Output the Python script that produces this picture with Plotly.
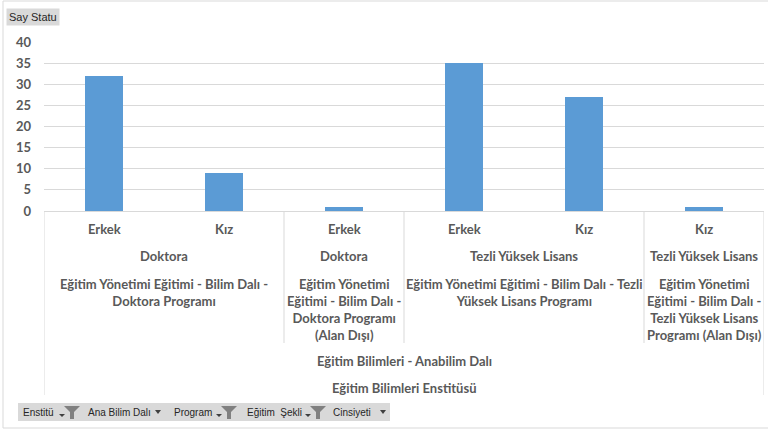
import plotly.graph_objects as go

# ---- data ----
genders = ["Erkek", "Kız", "Erkek", "Erkek", "Kız", "Kız"]
values = [32, 9, 1, 35, 27, 1]
egitim_sekli = ["Doktora", "Doktora", "Tezli Yüksek Lisans", "Tezli Yüksek Lisans"]
egitim_sekli_span = [(0, 1), (2, 2), (3, 4), (5, 5)]
programs = [
    "Eğitim Yönetimi Eğitimi - Bilim Dalı -<br>Doktora Programı",
    "Eğitim Yönetimi<br>Eğitimi - Bilim Dalı -<br>Doktora Programı<br>(Alan Dışı)",
    "Eğitim Yönetimi Eğitimi - Bilim Dalı - Tezli<br>Yüksek Lisans Programı",
    "Eğitim Yönetimi<br>Eğitimi - Bilim Dalı -<br>Tezli Yüksek Lisans<br>Programı (Alan Dışı)",
]
ana_bilim_dali = "Eğitim Bilimleri - Anabilim Dalı"
enstitu = "Eğitim Bilimleri Enstitüsü"
y_ticks = [0, 5, 10, 15, 20, 25, 30, 35, 40]
filter_fields = ["Enstitü", "Ana Bilim Dalı", "Program", "Eğitim  Şekli", "Cinsiyeti"]
series_name = "Say Statu"

# ---- geometry helpers (pixels -> paper) ----
W, H = 768, 430
L, R, T, B = 44, 4, 42, 219
PW, PH = W - L - R, H - T - B
def px(x):
    return (x - L) / PW
def py(y):
    return (H - B - y) / PH

TXT = "#595959"
GRID = "#d9d9d9"
FONT = "Lato"

xs = list(range(len(values)))
fig = go.Figure(go.Bar(x=xs, y=values, marker=dict(color="#5b9bd5", line=dict(width=0)),
                       width=0.317, name=series_name, showlegend=False))

shapes = []
annotations = []

# outer frame
shapes.append(dict(type="rect", xref="paper", yref="paper", x0=px(3), x1=px(770), y0=py(428), y1=py(1),
                   line=dict(color="#d9d9d9", width=1), fillcolor="rgba(0,0,0,0)", layer="below"))

def lab(x, y, text, xref="x", **kw):
    d = dict(x=x, y=y, xref=xref, yref="paper", text=text, showarrow=False,
             xanchor="center", yanchor="middle",
             font=dict(family=FONT, size=13, color=TXT, weight="bold"))
    d.update(kw)
    annotations.append(d)

# gender labels
for i, g in enumerate(genders):
    lab(i, py(229), g)
# egitim sekli + programs
for (a, b), es, pr in zip(egitim_sekli_span, egitim_sekli, programs):
    c = (a + b) / 2
    lab(c, py(256), es)
    lab(c, py(274), pr, yanchor="top", align="center")
lab(2.5, py(361), ana_bilim_dali)
lab(2.5, py(388), enstitu)

# separators
for xv in [1.5, 2.5, 4.5]:
    shapes.append(dict(type="line", xref="x", yref="paper", x0=xv, x1=xv, y0=py(211), y1=py(343),
                       line=dict(color=GRID, width=1)))
for xv in [-0.5, 5.5]:
    shapes.append(dict(type="line", xref="x", yref="paper", x0=xv, x1=xv, y0=py(211), y1=py(395),
                       line=dict(color=GRID, width=1)))

# "Say Statu" button
annotations.append(dict(x=px(6), y=py(8), xref="paper", yref="paper", xanchor="left", yanchor="top",
                        text=series_name, showarrow=False, bgcolor="#d9d9d9", borderpad=2,
                        font=dict(family="Liberation Sans", size=11, color="#262626")))

# filter bar
shapes.append(dict(type="rect", xref="paper", yref="paper", x0=px(18), x1=px(390), y0=py(421), y1=py(403),
                   line=dict(width=0), fillcolor="#d9d9d9"))
text_x = [21, 86, 172, 245, 331]
for tx, f in zip(text_x, filter_fields):
    annotations.append(dict(x=px(tx), y=py(412), xref="paper", yref="paper", xanchor="left",
                            yanchor="middle", text=f, showarrow=False,
                            font=dict(family="Liberation Sans", size=10, color="#262626")))

def pth(points):
    return "M " + " L ".join(f"{px(x)},{py(y)}" for x, y in points) + " Z"

def funnel(x0):
    y0 = 406
    shapes.append(dict(type="path", xref="paper", yref="paper",
                       path=pth([(x0, y0), (x0 + 16, y0), (x0 + 10, y0 + 6), (x0 + 10, y0 + 13),
                                 (x0 + 6, y0 + 13), (x0 + 6, y0 + 6)]),
                       fillcolor="#808080", line=dict(width=0)))
    shapes.append(dict(type="path", xref="paper", yref="paper",
                       path=pth([(x0 - 5, 414), (x0 + 1, 414), (x0 - 2, 417)]),
                       fillcolor="#404040", line=dict(width=0)))

def dropdown(x0):
    shapes.append(dict(type="path", xref="paper", yref="paper",
                       path=pth([(x0 - 3, 410), (x0 + 3, 410), (x0, 414)]),
                       fillcolor="#404040", line=dict(width=0)))

funnel(64)
dropdown(158)
funnel(221)
funnel(310)
dropdown(383)

fig.update_layout(
    width=W, height=H,
    margin=dict(l=L, r=R, t=T, b=B),
    paper_bgcolor="white", plot_bgcolor="white",
    shapes=shapes, annotations=annotations,
    xaxis=dict(range=[-0.5, 5.5], showticklabels=False, showgrid=False, zeroline=False,
               showline=True, linecolor=GRID, linewidth=1, ticks=""),
    yaxis=dict(range=[0, 40], tickvals=y_ticks, showgrid=True, gridcolor=GRID, gridwidth=1,
               zeroline=False, showline=False, ticks="", ticklabelstandoff=12,
               tickfont=dict(family=FONT, size=13, color=TXT, weight="bold")),
    bargap=0,
)

fig.write_html("out.html", config={"displayModeBar": False},
               post_script="document.body.style.margin='0';")
